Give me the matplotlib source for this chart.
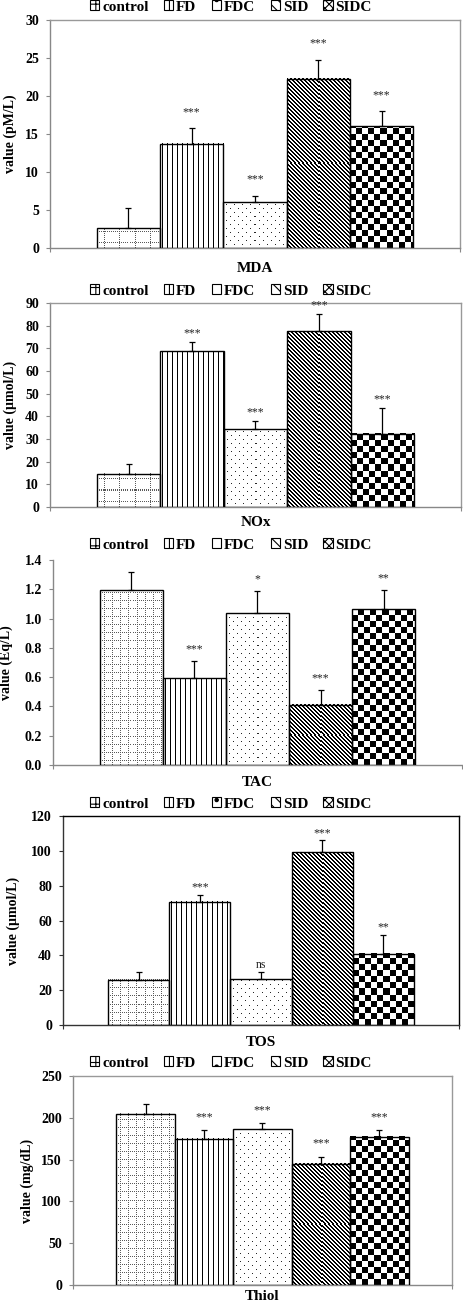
import numpy as np
import matplotlib
matplotlib.use("Agg")
import matplotlib.pyplot as plt
from matplotlib.patches import Patch

# ---------------- data ----------------
groups = ["control", "FD", "FDC", "SID", "SIDC"]

mda_mean = [2.6, 13.7, 6.0, 22.3, 16.0]
mda_err = [2.7, 2.1, 0.9, 2.5, 2.0]
mda_sig = ["", "***", "***", "***", "***"]

nox_mean = [14.7, 68.8, 34.4, 77.6, 32.4]
nox_err = [4.4, 3.9, 3.5, 7.4, 11.4]
nox_sig = ["", "***", "***", "***", "***"]

tac_mean = [1.195, 0.592, 1.036, 0.41, 1.063]
tac_err = [0.12, 0.12, 0.15, 0.104, 0.132]
tac_sig = ["", "***", "*", "***", "**"]

tos_mean = [26.1, 70.7, 26.5, 99.1, 40.9]
tos_err = [4.2, 4.2, 3.8, 6.9, 10.9]
tos_sig = ["", "***", "ns", "***", "**"]

thiol_mean = [204.8, 174.8, 186.4, 145.2, 177.2]
thiol_err = [11.2, 10.8, 7.2, 8.4, 8.0]
thiol_sig = ["", "***", "***", "***", "***"]

panel_names = ["MDA", "NOx", "TAC", "TOS", "Thiol"]
panel_ylabels = ["value (pM/L)", "value (\u00b5mol/L)", "value (Eq/L)",
                 "value (\u00b5mol/L)", "value (mg/dL)"]
panel_yticks = [np.arange(0, 31, 5), np.arange(0, 91, 10),
                np.arange(0, 1.41, 0.2), np.arange(0, 121, 20),
                np.arange(0, 251, 50)]
panel_means = [mda_mean, nox_mean, tac_mean, tos_mean, thiol_mean]
panel_errs = [mda_err, nox_err, tac_err, tos_err, thiol_err]
panel_sigs = [mda_sig, nox_sig, tac_sig, tos_sig, thiol_sig]

# ---------------- layout (pixels) ----------------
W, H = 464, 1305
boxes = [(50, 460, 20, 248), (50, 461, 303, 507), (53, 462, 560, 765),
         (63, 459, 816, 1025), (73, 452, 1076, 1285)]
legend_y = [7, 291, 545, 804, 1063]
xlabel_y = [268, 523, 782, 1043, 1297]
ylabel_x = [10, 10, 6, 13, 27]
frame_col = ["#999999", "#999999", None, "#000000", "#999999"]
axis_col = ["#888888", "#888888", "#888888", "#333333", "#888888"]
grid_step = [(15, 11), (15, 11), (8, 8), (8, 8), (8, 8)]
tick_fmt = ["{:.0f}", "{:.0f}", "{:.1f}", "{:.0f}", "{:.0f}"]
star_off = [7, 2, 4, 1, 5]

serif = ["Liberation Serif", "DejaVu Serif"]
plt.rcParams["font.family"] = serif
plt.rcParams["hatch.linewidth"] = 0.8


def texture(kind, nx, ny, step):
    """pixel texture (1 = white, 0 = black) for a bar nx x ny pixels"""
    j, i = np.meshgrid(np.arange(nx), np.arange(ny))
    ib = ny - 1 - i  # row counted from bottom
    t = np.ones((ny, nx))
    if kind == 0:  # dotted grid
        sx, sy = step
        vert = ((j % sx) == sx // 2) & ((ib % 2) == 0)
        hor = ((ib % sy) == sy // 2) & ((j % 2) == 0)
        t[vert | hor] = 0.35
    elif kind == 1:  # vertical lines
        t[(j % 5) == 2] = 0.0
    elif kind == 2:  # sparse dots
        d = (((ib % 8) == 3) & ((j % 8) == 3)) | (((ib % 8) == 7) & ((j % 8) == 7))
        t[d] = 0.15
    elif kind == 3:  # diagonal stripes "\"
        t[((i - j) % 4) < 2] = 0.0
    elif kind == 4:  # checkerboard
        t = (((ib // 6) + (j // 6)) % 2).astype(float)
    return t


fig = plt.figure(figsize=(W / 100, H / 100), dpi=100)

for p in range(5):
    l, r, t, b = boxes[p]
    ax = fig.add_axes([l / W, 1 - b / H, (r - l) / W, (b - t) / H])
    x = np.arange(len(groups))
    means = panel_means[p]
    errs = panel_errs[p]
    yt = panel_yticks[p]
    xlim = (-0.5 - 0.74, 4.5 + 0.74)
    ylim = (0, yt[-1])
    ax.set_xlim(*xlim)
    ax.set_ylim(*ylim)

    bars = ax.bar(x, means, width=1.0, facecolor="white", edgecolor="black",
                  linewidth=1.0, zorder=3)
    for i, bar in enumerate(bars):
        bar.set_fill(False)
        x0, y0 = ax.transData.transform((bar.get_x(), 0))
        x1, y1 = ax.transData.transform((bar.get_x() + bar.get_width(), bar.get_height()))
        nx = max(1, int(round(x1 - x0)))
        ny = max(1, int(round(y1 - y0)))
        tex = texture(i, nx, ny, grid_step[p])
        ax.imshow(tex, cmap="gray", vmin=0, vmax=1,
                  extent=[bar.get_x(), bar.get_x() + bar.get_width(), 0, bar.get_height()],
                  aspect="auto", interpolation="nearest", origin="upper", zorder=2)

    ax.errorbar(x, means, yerr=[np.zeros(5), errs], fmt="none", ecolor="black",
                elinewidth=0.9, capsize=2, capthick=0.9, zorder=4)
    for i in range(5):
        if panel_sigs[p][i]:
            ax.annotate(panel_sigs[p][i], (x[i], means[i] + errs[i]),
                        xytext=(0, star_off[p]), textcoords="offset points",
                        ha="center", va="bottom", fontsize=8.5, color="#222222")

    ax.set_xlim(*xlim)
    ax.set_ylim(*ylim)
    ax.set_yticks(yt)
    ax.set_yticklabels([tick_fmt[p].format(v) for v in yt],
                       fontsize=10, fontweight="bold")
    ax.set_xticks([xlim[0], xlim[1]])
    ax.set_xticklabels([])
    ax.tick_params(axis="y", direction="out", length=3, width=0.8,
                   color=axis_col[p], pad=5)
    ax.tick_params(axis="x", direction="out", length=3, width=0.8,
                   color=axis_col[p])
    for s in ["left", "bottom"]:
        ax.spines[s].set_color(axis_col[p])
        ax.spines[s].set_linewidth(1.0)
    for s in ["top", "right"]:
        if frame_col[p] is None:
            ax.spines[s].set_visible(False)
        else:
            ax.spines[s].set_color(frame_col[p])
            ax.spines[s].set_linewidth(1.0)

    ax.set_ylabel(panel_ylabels[p], fontsize=10, fontweight="bold")
    ax.yaxis.label.set_verticalalignment("center")
    ax.yaxis.set_label_coords((ylabel_x[p] - l) / (r - l), 0.5)

    fig.text(((l + r) / 2) / W, 1 - xlabel_y[p] / H, panel_names[p],
             ha="center", va="center", fontsize=11, fontweight="bold")

    handles = [
        Patch(facecolor="white", edgecolor="black", hatch="++", linewidth=0.8),
        Patch(facecolor="white", edgecolor="black", hatch="|||", linewidth=0.8),
        Patch(facecolor="white", edgecolor="black", hatch=".", linewidth=0.8),
        Patch(facecolor="white", edgecolor="black", hatch="\\\\\\", linewidth=0.8),
        Patch(facecolor="white", edgecolor="black", hatch="xxxx", linewidth=0.8),
    ]
    fig.legend(handles, groups, loc="center", ncol=5,
               bbox_to_anchor=(231 / W, 1 - legend_y[p] / H),
               frameon=False,
               prop={"weight": "bold", "size": 11, "family": serif},
               handlelength=0.6, handleheight=0.6, handletextpad=0.2,
               columnspacing=1.0, borderpad=0.1)

fig.savefig("out.png", dpi=100)
